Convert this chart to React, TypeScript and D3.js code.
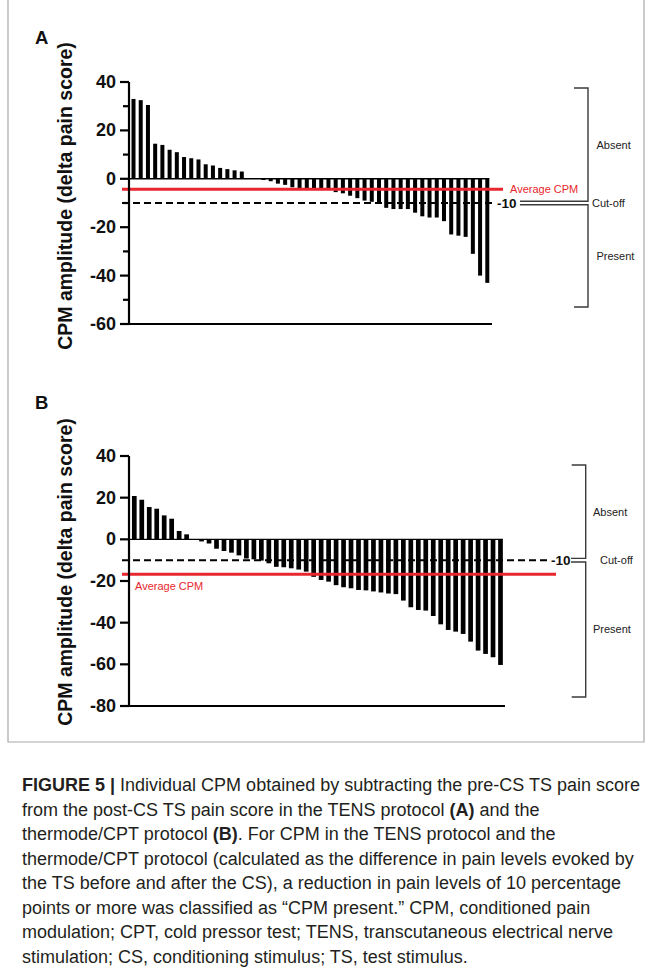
import React from "react";
import * as d3 from "d3";

// ---------- DATA ----------
const valuesA: number[] = [
  33, 32.5, 30.5, 14.5, 14, 12, 11, 9, 8.5, 8, 6, 5.5, 4.5, 4, 3.5, 3,
  0, 0, -0.5, -1, -2, -2.5, -3.5, -4, -4, -4, -4, -4, -5.5, -6, -7, -8, -9,
  -9.5, -10, -12, -12.5, -12.5, -12.5, -14, -15.5, -16, -16, -17.5, -23,
  -23.5, -24, -31, -40, -43,
];
const valuesB: number[] = [
  20.8, 19, 15.5, 14.7, 11.5, 9.9, 4, 2.4, 0, -1, -2, -4.5, -5.6, -6.4,
  -7.7, -9.2, -9.6, -10.2, -11.5, -13.2, -13.4, -13.9, -14.5, -15.5, -18,
  -19.5, -20.3, -22, -23, -23.5, -24.3, -24.5, -25, -25.5, -26, -26.3,
  -29.4, -32.6, -33.9, -34.2, -36.8, -40.8, -43.5, -44.3, -45.4, -49.1,
  -53.4, -55, -56.6, -60.3,
];
const ticksA: number[] = [40, 20, 0, -20, -40, -60];
const minorTicksA: number[] = [30, 10, -10, -30, -50];
const ticksB: number[] = [40, 20, 0, -20, -40, -60, -80];
const minorTicksB: number[] = [];
const averageA = -4.3;
const averageB = -16.8;
const cutoff = -10;
const yTitle = "CPM amplitude (delta pain score)";
const avgLabel = "Average CPM";
const bracketLabels = ["Absent", "Cut-off", "Present"];

const captionLines: { t: string; b?: boolean }[][] = [
  [{ t: "FIGURE 5 | ", b: true }, { t: "Individual CPM obtained by subtracting the pre-CS TS pain score" }],
  [{ t: "from the post-CS TS pain score in the TENS protocol " }, { t: "(A)", b: true }, { t: " and the" }],
  [{ t: "thermode/CPT protocol " }, { t: "(B)", b: true }, { t: ". For CPM in the TENS protocol and the" }],
  [{ t: "thermode/CPT protocol (calculated as the difference in pain levels evoked by" }],
  [{ t: "the TS before and after the CS), a reduction in pain levels of 10 percentage" }],
  [{ t: "points or more was classified as \u201CCPM present.\u201D CPM, conditioned pain" }],
  [{ t: "modulation; CPT, cold pressor test; TENS, transcutaneous electrical nerve" }],
  [{ t: "stimulation; CS, conditioning stimulus; TS, test stimulus." }],
];

const FONT = "'Liberation Sans', Arial, Helvetica, sans-serif";
const RED = "#e8262d";
const GRAY = "#3a3a3a";

type PanelCfg = {
  label: string;
  values: number[];
  ticks: number[];
  minor: number[];
  domain: [number, number];
  yRange: [number, number];
  xFirst: number;
  xLast: number;
  axisEnd: number;
  barW: number;
  average: number;
  avgEnd: number;
  avgLabelPos: "right" | "below";
  dashEnd: number;
  bracketX: number;
  bracketTop: number;
  bracketBottom: number;
  eqStart: number;
  labelY: number;
  titleCenter: number;
  labelX: [number, number, number];
};

function Panel({ c }: { c: PanelCfg }) {
  const y = d3.scaleLinear().domain(c.domain).range(c.yRange);
  const idx = c.values.map((_, i) => String(i));
  const x = d3.scalePoint<string>().domain(idx).range([c.xFirst, c.xLast]);
  const axisX = 129;
  const y0 = y(0);
  const yc = y(cutoff);
  const eqGap = 1.8;
  const labelFs = 11;
  const absY = (c.bracketTop + yc - eqGap) / 2;
  const preY = (c.bracketBottom + yc + eqGap) / 2;
  return (
    <g>
      <text x={35} y={c.labelY} fontFamily={FONT} fontWeight="bold" fontSize={18.5} fill="#111">
        {c.label}
      </text>
      <text
        transform={`translate(72,${c.titleCenter}) rotate(-90)`}
        textAnchor="middle"
        fontFamily={FONT}
        fontWeight="bold"
        fontSize={19.5}
        fill="#111"
      >
        {yTitle}
      </text>
      {/* bars */}
      {c.values.map((v, i) => {
        const cx = x(String(i))!;
        const top = Math.min(y(v), y0);
        const h = Math.abs(y(v) - y0);
        return <rect key={i} x={cx - c.barW / 2} y={top} width={c.barW} height={h} fill="#000" />;
      })}
      {/* zero baseline */}
      <line x1={axisX} x2={c.xLast + c.barW / 2} y1={y0} y2={y0} stroke="#000" strokeWidth={1.4} />
      {/* cutoff dashed */}
      <line x1={122} x2={c.dashEnd} y1={yc} y2={yc} stroke="#000" strokeWidth={2} strokeDasharray="7,4" />
      <text x={c.dashEnd + 3} y={yc} dominantBaseline="central" fontFamily={FONT} fontWeight="bold" fontSize={13.5} fill="#111">
        {"-10"}
      </text>
      {/* average line */}
      <line x1={122} x2={c.avgEnd} y1={y(c.average)} y2={y(c.average)} stroke={RED} strokeWidth={3} />
      {c.avgLabelPos === "right" ? (
        <text x={c.avgEnd + 7} y={y(c.average)} dominantBaseline="central" fontFamily={FONT} fontSize={labelFs} fill={RED}>
          {avgLabel}
        </text>
      ) : (
        <text x={135} y={y(c.average) + 12} dominantBaseline="central" fontFamily={FONT} fontSize={labelFs} fill={RED}>
          {avgLabel}
        </text>
      )}
      {/* y axis */}
      <line x1={axisX} x2={axisX} y1={y(c.domain[1])} y2={y(c.domain[0])} stroke="#000" strokeWidth={2.2} />
      {c.ticks.map((t) => (
        <g key={t}>
          <line x1={axisX - 9} x2={axisX} y1={y(t)} y2={y(t)} stroke="#000" strokeWidth={2.2} />
          <text x={116} y={y(t)} textAnchor="end" dominantBaseline="central" fontFamily={FONT} fontWeight="bold" fontSize={18} fill="#111">
            {t}
          </text>
        </g>
      ))}
      {c.minor.map((t) => (
        <line key={t} x1={axisX - 6} x2={axisX} y1={y(t)} y2={y(t)} stroke="#000" strokeWidth={2.2} />
      ))}
      {/* x axis */}
      <line x1={axisX - 1} x2={c.axisEnd} y1={y(c.domain[0])} y2={y(c.domain[0])} stroke="#000" strokeWidth={2.2} />
      {/* bracket */}
      <path
        d={`M${c.bracketX - 14},${c.bracketTop} H${c.bracketX} V${yc - eqGap} H${c.eqStart}`}
        fill="none"
        stroke={GRAY}
        strokeWidth={1.4}
      />
      <path
        d={`M${c.eqStart},${yc + eqGap} H${c.bracketX} V${c.bracketBottom} H${c.bracketX - 14}`}
        fill="none"
        stroke={GRAY}
        strokeWidth={1.4}
      />
      <text x={c.labelX[0]} y={absY} dominantBaseline="central" fontFamily={FONT} fontSize={labelFs} fill="#222">
        {bracketLabels[0]}
      </text>
      <text x={c.labelX[1]} y={yc} dominantBaseline="central" fontFamily={FONT} fontSize={labelFs} fill="#222">
        {bracketLabels[1]}
      </text>
      <text x={c.labelX[2]} y={preY} dominantBaseline="central" fontFamily={FONT} fontSize={labelFs} fill="#222">
        {bracketLabels[2]}
      </text>
    </g>
  );
}

const panelA: PanelCfg = {
  label: "A",
  values: valuesA,
  ticks: ticksA,
  minor: minorTicksA,
  domain: [-60, 40],
  yRange: [324, 82],
  xFirst: 133.5,
  xLast: 487.3,
  axisEnd: 492,
  barW: 4,
  average: averageA,
  avgEnd: 503,
  avgLabelPos: "right",
  dashEnd: 494,
  bracketX: 588,
  bracketTop: 88,
  bracketBottom: 307,
  eqStart: 520,
  labelY: 44,
  titleCenter: 196,
  labelX: [596.5, 592, 596.5],
};

const panelB: PanelCfg = {
  label: "B",
  values: valuesB,
  ticks: ticksB,
  minor: minorTicksB,
  domain: [-80, 40],
  yRange: [706, 456],
  xFirst: 134.3,
  xLast: 500.5,
  axisEnd: 505,
  barW: 4.7,
  average: averageB,
  avgEnd: 556,
  avgLabelPos: "below",
  dashEnd: 548,
  bracketX: 585.7,
  bracketTop: 465,
  bracketBottom: 697,
  eqStart: 571,
  labelY: 409,
  titleCenter: 572,
  labelX: [593, 600, 593],
};

export default function App() {
  const capY0 = 791;
  const capStep = 24.5;
  return (
    <svg
      width={652}
      height={976}
      viewBox="0 0 652 976"
      style={{ position: "absolute", left: 0, top: 0, background: "#fff" }}
    >
      <rect x={0} y={0} width={652} height={976} fill="#fff" />
      <path d="M8,0 V742 H644 V0" fill="none" stroke="#a8a8a8" strokeWidth={1.2} />
      <Panel c={panelA} />
      <Panel c={panelB} />
      {captionLines.map((line, i) => (
        <text key={i} x={22} y={capY0 + i * capStep} fontFamily={FONT} fontSize={18} fill="#231f20">
          {line.map((s, j) => (
            <tspan key={j} fontWeight={s.b ? "bold" : "normal"}>
              {s.t}
            </tspan>
          ))}
        </text>
      ))}
    </svg>
  );
}
